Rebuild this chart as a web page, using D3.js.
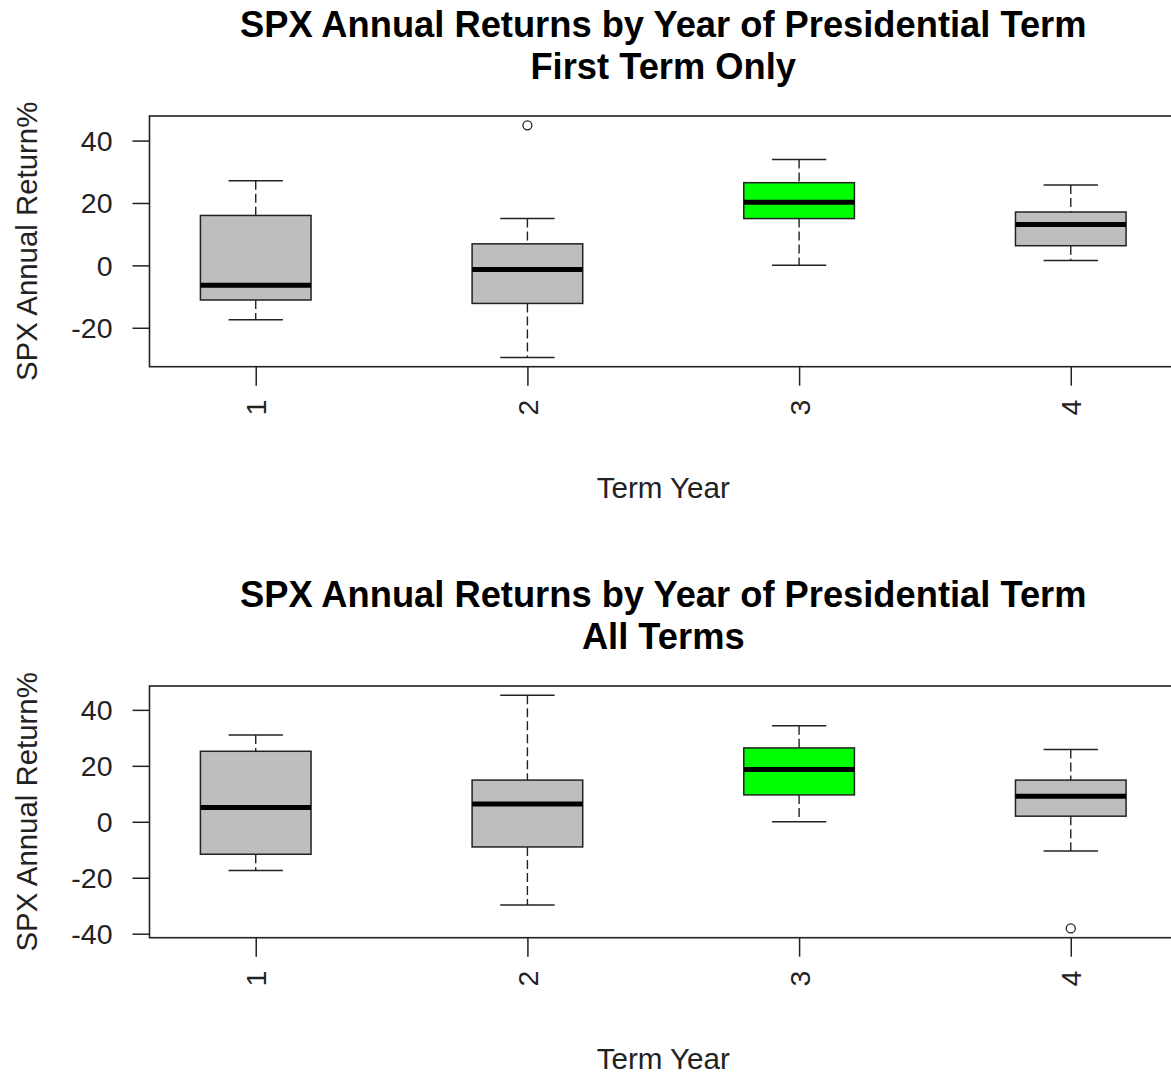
<!DOCTYPE html>
<meta charset="utf-8">
<head>
<script src="https://cdn.jsdelivr.net/npm/d3@7"></script>
<style>
body { margin: 0; background: #fff; }
text { font-family: "Liberation Sans", Arial, sans-serif; }
</style>
</head>
<body>
<svg id="chart"></svg>
<script>
// term years on the x axis
var termYears = [1, 2, 3, 4];
var highlightYear = 3;

// first term only: whisker low, Q1, median, Q3, whisker high, outliers
var firstLow = [-17.4, -29.5, 0.0, 1.6];
var firstQ1 = [-11.1, -12.2, 15.0, 6.3];
var firstMedian = [-6.4, -1.3, 20.2, 13.1];
var firstQ3 = [16.0, 6.9, 26.5, 17.1];
var firstHigh = [27.1, 15.0, 33.9, 25.8];
var firstOutliers = [[], [44.9], [], []];
var firstTicks = [-20, 0, 20, 40];

// all terms
var allLow = [-17.4, -29.7, 0.0, -10.4];
var allQ1 = [-11.6, -9.0, 9.6, 2.0];
var allMedian = [5.1, 6.4, 18.7, 9.1];
var allQ3 = [25.2, 14.9, 26.4, 14.9];
var allHigh = [31.0, 45.2, 34.3, 25.8];
var allOutliers = [[], [], [], [-38.1]];
var allTicks = [-40, -20, 0, 20, 40];

var width = 1171, height = 1076;
var svg = d3.select("#chart").attr("width", width).attr("height", height);

var plotLeft = 149.5, plotRight = 1177;
var x = d3.scaleLinear().domain([0.609, 4.391]).range([plotLeft, plotRight]);
var boxHalf = 0.2036, capHalf = 0.1;

function buildStats(low, q1, med, q3, high, outs) {
    return termYears.map(function(t, i) {
        return {year: t, low: low[i], q1: q1[i], med: med[i], q3: q3[i], high: high[i], outliers: outs[i]};
    });
}

var panels = [
    {title: "First Term Only", top: 116, bottom: 366.7, ticks: firstTicks,
     stats: buildStats(firstLow, firstQ1, firstMedian, firstQ3, firstHigh, firstOutliers)},
    {title: "All Terms", top: 686, bottom: 937.7, ticks: allTicks,
     stats: buildStats(allLow, allQ1, allMedian, allQ3, allHigh, allOutliers)}
];

panels.forEach(function(p) {
    // R style range: data range stretched by 4%
    var vals = [];
    p.stats.forEach(function(s) { vals.push(s.low, s.high); vals = vals.concat(s.outliers); });
    var lo = d3.min(vals), hi = d3.max(vals), pad = (hi - lo) * 0.04;
    var y = d3.scaleLinear().domain([lo - pad, hi + pad]).range([p.bottom, p.top]);

    var g = svg.append("g");

    // titles
    var cx = (plotLeft + plotRight) / 2;
    g.append("text").attr("x", cx).attr("y", p.top - 79)
        .attr("text-anchor", "middle").style("font-size", "36.3px").style("font-weight", "bold")
        .text("SPX Annual Returns by Year of Presidential Term");
    g.append("text").attr("x", cx).attr("y", p.top - 37)
        .attr("text-anchor", "middle").style("font-size", "36.3px").style("font-weight", "bold")
        .text(p.title);

    // y axis
    var yAxis = g.append("g").attr("transform", "translate(" + plotLeft + ",0)")
        .call(d3.axisLeft(y).tickValues(p.ticks).tickSize(17).tickPadding(20).tickFormat(String));
    yAxis.select(".domain").remove();
    yAxis.selectAll("line").attr("stroke", "#222").attr("stroke-width", 1.5);
    yAxis.selectAll("text").style("font-size", "28.5px").attr("fill", "#222")
        .attr("font-family", null).attr("dy", "0.35em");

    // x axis
    var xAxis = g.append("g").attr("transform", "translate(0," + p.bottom + ")")
        .call(d3.axisBottom(x).tickValues(termYears).tickSize(19).tickFormat(String));
    xAxis.select(".domain").remove();
    xAxis.selectAll("line").attr("stroke", "#222").attr("stroke-width", 1.5);
    xAxis.selectAll("text").style("font-size", "28.5px").attr("fill", "#222")
        .attr("font-family", null)
        .attr("y", 0).attr("dy", null)
        .attr("text-anchor", "end")
        .attr("transform", "translate(10,33) rotate(-90)");

    // axis titles
    g.append("text").attr("x", cx).attr("y", p.bottom + 131)
        .attr("text-anchor", "middle").style("font-size", "29.6px").attr("fill", "#222")
        .text("Term Year");
    g.append("text")
        .attr("transform", "translate(37," + (p.top + p.bottom) / 2 + ") rotate(-90)")
        .attr("text-anchor", "middle").style("font-size", "29.4px").attr("fill", "#222")
        .text("SPX Annual Return%");

    // boxes
    var box = g.selectAll(".box").data(p.stats).enter().append("g").attr("class", "box");

    box.append("line")
        .attr("x1", function(d) { return x(d.year); }).attr("x2", function(d) { return x(d.year); })
        .attr("y1", function(d) { return y(d.high); }).attr("y2", function(d) { return y(d.q3); })
        .attr("stroke", "#222").attr("stroke-width", 1.4).attr("stroke-dasharray", "9,4");
    box.append("line")
        .attr("x1", function(d) { return x(d.year); }).attr("x2", function(d) { return x(d.year); })
        .attr("y1", function(d) { return y(d.q1); }).attr("y2", function(d) { return y(d.low); })
        .attr("stroke", "#222").attr("stroke-width", 1.4).attr("stroke-dasharray", "9,4");
    ["high", "low"].forEach(function(k) {
        box.append("line")
            .attr("x1", function(d) { return x(d.year - capHalf); })
            .attr("x2", function(d) { return x(d.year + capHalf); })
            .attr("y1", function(d) { return y(d[k]); }).attr("y2", function(d) { return y(d[k]); })
            .attr("stroke", "#222").attr("stroke-width", 1.5);
    });
    box.append("rect")
        .attr("x", function(d) { return x(d.year - boxHalf); })
        .attr("width", function(d) { return x(d.year + boxHalf) - x(d.year - boxHalf); })
        .attr("y", function(d) { return y(d.q3); })
        .attr("height", function(d) { return y(d.q1) - y(d.q3); })
        .attr("fill", function(d) { return d.year === highlightYear ? "#00ff00" : "#bebebe"; })
        .attr("stroke", "#222").attr("stroke-width", 1.5);
    box.append("line")
        .attr("x1", function(d) { return x(d.year - boxHalf); })
        .attr("x2", function(d) { return x(d.year + boxHalf); })
        .attr("y1", function(d) { return y(d.med); }).attr("y2", function(d) { return y(d.med); })
        .attr("stroke", "#000").attr("stroke-width", 5);
    box.selectAll("circle").data(function(d) {
            return d.outliers.map(function(v) { return {year: d.year, v: v}; });
        }).enter().append("circle")
        .attr("cx", function(d) { return x(d.year); })
        .attr("cy", function(d) { return y(d.v); })
        .attr("r", 4.5).attr("fill", "none").attr("stroke", "#222").attr("stroke-width", 1.3);

    // frame
    g.append("rect").attr("x", plotLeft).attr("y", p.top)
        .attr("width", plotRight - plotLeft).attr("height", p.bottom - p.top)
        .attr("fill", "none").attr("stroke", "#222").attr("stroke-width", 1.6);
});
</script>
</body>
